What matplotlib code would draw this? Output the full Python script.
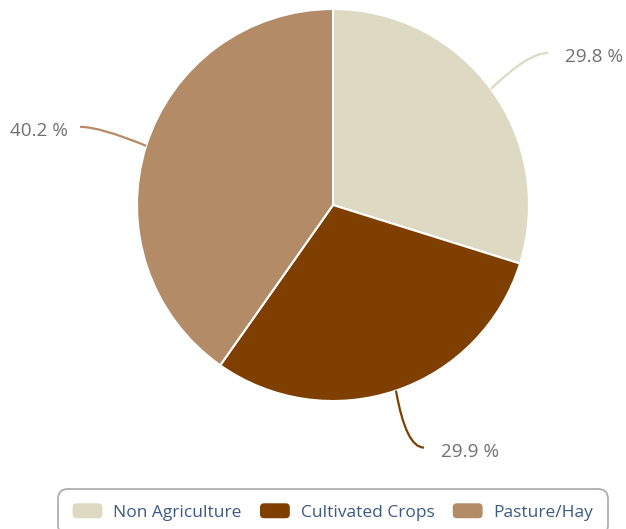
import numpy as np
import matplotlib
matplotlib.use("Agg")
import matplotlib.pyplot as plt
from matplotlib.patches import FancyBboxPatch, PathPatch
from matplotlib.path import Path
from matplotlib.legend_handler import HandlerPatch

plt.rcParams['font.family'] = ['Open Sans', 'DejaVu Sans']

categories = ["Non Agriculture", "Cultivated Crops", "Pasture/Hay"]
shares = [29.8, 29.9, 40.2]
colors = ["#DDD9C3", "#7F3F00", "#B38B67"]
label_texts = ["29.8 %", "29.9 %", "40.2 %"]

W, H = 626, 529
fig = plt.figure(figsize=(W / 100, H / 100), dpi=100)
ax = fig.add_axes([0, 0, 1, 1])
ax.set_xlim(0, W)
ax.set_ylim(0, H)
ax.set_aspect("equal")
ax.axis("off")

cx, cy, r = 333, H - 205, 196
wedges, _ = ax.pie(shares, colors=colors, startangle=90, counterclock=False,
                   center=(cx, cy), radius=r, frame=False,
                   wedgeprops=dict(edgecolor="white", linewidth=1.5))
ax.set_xlim(0, W)
ax.set_ylim(0, H)

# connector end offsets (px) from rim point, and bend control offsets
ends = [(57, 36), (28, -57), (-66, 19)]
bends = [(-20, 0), (-18, 0), (20, 0)]
for w, lab, col, (ex, ey), (bx, by) in zip(wedges, label_texts, colors, ends, bends):
    mid = np.deg2rad((w.theta1 + w.theta2) / 2)
    sx, sy = cx + r * np.cos(mid), cy + r * np.sin(mid)
    tx, ty = sx + ex, sy + ey
    path = Path([(sx, sy), (tx + bx, ty + by), (tx, ty)],
                [Path.MOVETO, Path.CURVE3, Path.CURVE3])
    ax.add_patch(PathPatch(path, fill=False, edgecolor=col, lw=1.6))
    if ex > 0:
        ax.text(tx + 17, ty - 4, lab, ha="left", va="center",
                fontsize=13.6, color="#707070")
    else:
        ax.text(tx - 12, ty - 4, lab, ha="right", va="center",
                fontsize=13.6, color="#707070")


class RoundHandler(HandlerPatch):
    def create_artists(self, legend, orig_handle, xdescent, ydescent,
                       width, height, fontsize, trans):
        p = FancyBboxPatch((-xdescent + 2, -ydescent + 2), width - 4, height - 4,
                           boxstyle="round,pad=2,rounding_size=3",
                           facecolor=orig_handle.get_facecolor(),
                           edgecolor="none", transform=trans)
        return [p]


handles = [FancyBboxPatch((0, 0), 1, 1, facecolor=c) for c in colors]
leg = fig.legend(handles, categories, loc="center", ncol=3,
                 bbox_to_anchor=(333 / W, 1 - 512 / H),
                 handler_map={FancyBboxPatch: RoundHandler()},
                 fontsize=12.5, handlelength=1.72, handleheight=0.95,
                 handletextpad=0.63, columnspacing=1.05,
                 borderpad=0.85, frameon=True, fancybox=True)
for t in leg.get_texts():
    t.set_color("#3D5A80")
frame = leg.get_frame()
frame.set_edgecolor("#999999")
frame.set_linewidth(1.3)
frame.set_boxstyle("round,pad=0,rounding_size=0.6")

fig.savefig("out.png", dpi=100)
